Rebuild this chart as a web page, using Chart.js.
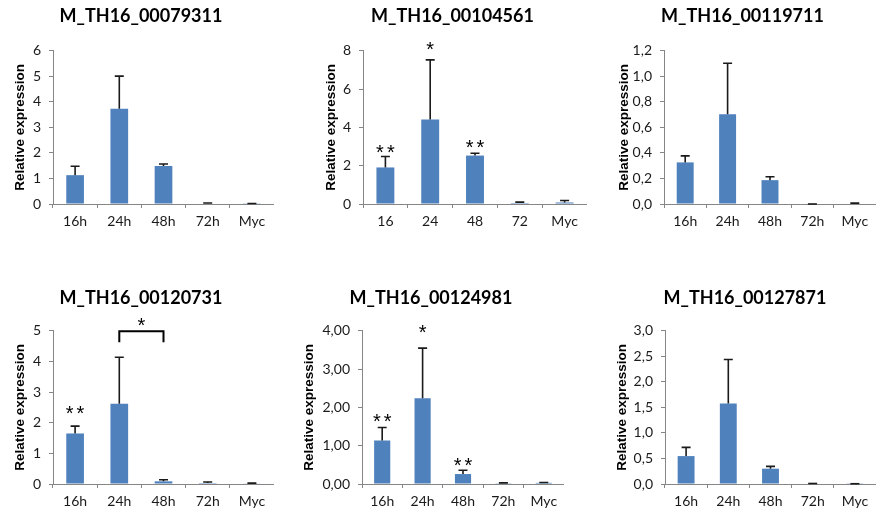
<!DOCTYPE html>
<html>
<head>
<meta charset="utf-8">
<script src="https://cdn.jsdelivr.net/npm/chart.js@4.4.1/dist/chart.umd.min.js"></script>
<style>
html, body { margin: 0; padding: 0; background: #fff; }
body { width: 876px; height: 514px; position: relative; overflow: hidden; }
canvas { position: absolute; }
</style>
</head>
<body>
<canvas id="c79311"></canvas>
<canvas id="c104561"></canvas>
<canvas id="c119711"></canvas>
<canvas id="c120731"></canvas>
<canvas id="c124981"></canvas>
<canvas id="c127871"></canvas>
<script>
// categories
const hours = ['16h', '24h', '48h', '72h', 'Myc'];
const hoursPlain = ['16', '24', '48', '72', 'Myc'];

// mean relative expression and upper error (sd) per gene
const mean_79311 = [1.13, 3.73, 1.49, 0.02, 0.01];
const sd_79311 = [0.35, 1.28, 0.08, 0.02, 0.01];

const mean_104561 = [1.91, 4.42, 2.53, 0.05, 0.08];
const sd_104561 = [0.57, 3.11, 0.12, 0.05, 0.10];
const sig_104561 = ['**', '*', '**', '', ''];
const sigLevel_104561 = [2.86, 8.24, 3.14, 0, 0];

const mean_119711 = [0.326, 0.703, 0.187, 0, 0.004];
const sd_119711 = [0.051, 0.40, 0.026, 0, 0.003];

const mean_120731 = [1.65, 2.62, 0.087, 0.03, 0.02];
const sd_120731 = [0.24, 1.52, 0.05, 0.035, 0.01];
const sig_120731 = ['**', '', '', '', ''];
const sigLevel_120731 = [2.42, 0, 0, 0, 0];
const bracket_120731 = { from: 1, to: 2, top: 4.99, foot: 4.63, label: '*', labelLevel: 5.30 };

const mean_124981 = [1.137, 2.24, 0.26, 0.02, 0.03];
const sd_124981 = [0.34, 1.31, 0.10, 0.01, 0.01];
const sig_124981 = ['**', '*', '**', '', ''];
const sigLevel_124981 = [1.72, 4.05, 0.58, 0, 0];

const mean_127871 = [0.547, 1.575, 0.30, 0.01, 0.005];
const sd_127871 = [0.17, 0.865, 0.045, 0, 0];

// y axis ranges
const yMax = [6, 8, 1.2, 5, 4, 3];
const yStep = [1, 2, 0.2, 1, 1, 0.5];
const yDecimals = [0, 0, 1, 0, 2, 1];

const panels = [
  { id: 'c79311', title: 'M_TH16_00079311', labels: hours, mean: mean_79311, sd: sd_79311,
    box: { left: 8, top: 0, width: 266, height: 240, yw: 45, xh: 36, pt: 5.2, pb: 24.1, lp: 4.4 } },
  { id: 'c104561', title: 'M_TH16_00104561', labels: hoursPlain, mean: mean_104561, sd: sd_104561,
    sig: sig_104561, sigLevel: sigLevel_104561,
    box: { left: 318, top: 0, width: 269, height: 240, yw: 45, xh: 36, pt: 5.2, pb: 24.1, lp: 5.6 } },
  { id: 'c119711', title: 'M_TH16_00119711', labels: hours, mean: mean_119711, sd: sd_119711,
    box: { left: 609, top: 0, width: 267, height: 240, yw: 55, xh: 36, pt: 5.2, pb: 24.1, lp: 7.1 } },
  { id: 'c120731', title: 'M_TH16_00120731', labels: hours, mean: mean_120731, sd: sd_120731,
    sig: sig_120731, sigLevel: sigLevel_120731, bracket: bracket_120731,
    box: { left: 8, top: 280, width: 266, height: 234, yw: 45, xh: 30, pt: 6.9, pb: 22.4, lp: 3.9 } },
  { id: 'c124981', title: 'M_TH16_00124981', labels: hours, mean: mean_124981, sd: sd_124981,
    sig: sig_124981, sigLevel: sigLevel_124981,
    box: { left: 298, top: 280, width: 266, height: 234, yw: 64, xh: 30, pt: 6.9, pb: 22.4, lp: 3.2 } },
  { id: 'c127871', title: 'M_TH16_00127871', labels: hours, mean: mean_127871, sd: sd_127871,
    box: { left: 614, top: 280, width: 262, height: 234, yw: 51, xh: 30, pt: 6.9, pb: 22.4, lp: 0 } },
];

const AXIS = '#868686';
const TEXT = '#1a1a1a';

// error bars drawn on top of the bars, using the y scale
const errorBars = {
  id: 'errorBars',
  afterDatasetsDraw(chart) {
    const ds = chart.data.datasets[0];
    const meta = chart.getDatasetMeta(0);
    const y = chart.scales.y;
    const ctx = chart.ctx;
    ctx.save();
    ctx.strokeStyle = '#1a1a1a';
    ctx.lineWidth = 1.6;
    meta.data.forEach((bar, i) => {
      const top = y.getPixelForValue(ds.data[i] + ds.sd[i]);
      ctx.beginPath();
      ctx.moveTo(bar.x, bar.y);
      ctx.lineTo(bar.x, top);
      ctx.moveTo(bar.x - 4.5, top);
      ctx.lineTo(bar.x + 4.5, top);
      ctx.stroke();
    });
    ctx.restore();
  }
};

// significance stars and bracket
const sigMarks = {
  id: 'sigMarks',
  afterDatasetsDraw(chart, args, opts) {
    const x = chart.scales.x, y = chart.scales.y, ctx = chart.ctx;
    ctx.save();
    ctx.fillStyle = '#000';
    ctx.font = '20px "Liberation Sans"';
    ctx.textAlign = 'center';
    ctx.textBaseline = 'middle';
    const star = (text, cx, level) => {
      ctx.letterSpacing = text.length > 1 ? '3px' : '0px';
      const shift = text.length > 1 ? 1.5 : 0;
      ctx.fillText(text, cx + shift, y.getPixelForValue(level) + 4.5);
    };
    (opts.sig || []).forEach((t, i) => {
      if (t) star(t, x.getPixelForValue(i), opts.sigLevel[i]);
    });
    const b = opts.bracket;
    if (b) {
      const x1 = x.getPixelForValue(b.from), x2 = x.getPixelForValue(b.to);
      const yt = y.getPixelForValue(b.top), yf = y.getPixelForValue(b.foot);
      ctx.strokeStyle = '#000';
      ctx.lineWidth = 2;
      ctx.beginPath();
      ctx.moveTo(x1, yf);
      ctx.lineTo(x1, yt);
      ctx.lineTo(x2, yt);
      ctx.lineTo(x2, yf);
      ctx.stroke();
      star(b.label, (x1 + x2) / 2, b.labelLevel);
    }
    ctx.restore();
  }
};

function makePanel(p, k) {
  const c = document.getElementById(p.id);
  const b = p.box;
  c.width = b.width;
  c.height = b.height;
  c.style.left = b.left + 'px';
  c.style.top = b.top + 'px';
  return new Chart(c, {
    type: 'bar',
    data: {
      labels: p.labels,
      datasets: [{
        data: p.mean,
        sd: p.sd,
        backgroundColor: '#4f81bd',
        borderWidth: 0,
        barPercentage: 0.4,
        categoryPercentage: 1,
      }]
    },
    options: {
      responsive: false,
      animation: false,
      devicePixelRatio: 1,
      layout: { padding: 0 },
      plugins: {
        legend: { display: false },
        tooltip: { enabled: false },
        title: {
          display: true,
          text: p.title,
          color: '#000',
          font: { family: 'Lato', size: 18, weight: 'bold', lineHeight: 1.2 },
          padding: { top: b.pt, bottom: b.pb },
        },
        sigMarks: { sig: p.sig, sigLevel: p.sigLevel, bracket: p.bracket },
      },
      scales: {
        x: {
          offset: true,
          grid: { offset: true, drawOnChartArea: false, tickLength: 4, color: AXIS },
          border: { color: AXIS },
          ticks: { color: TEXT, font: { family: 'Lato', size: 14 }, padding: 5, maxRotation: 0, autoSkip: false },
          afterFit: s => { s.height = b.xh; },
        },
        y: {
          min: 0,
          max: yMax[k],
          grid: { drawOnChartArea: false, tickLength: 4, color: AXIS },
          border: { color: AXIS },
          ticks: {
            stepSize: yStep[k],
            color: TEXT,
            font: { family: 'Lato', size: 14 },
            padding: 8,
            callback: v => v.toFixed(yDecimals[k]).replace('.', ','),
          },
          title: {
            display: true,
            text: 'Relative expression',
            color: '#000',
            font: { family: 'Liberation Sans', size: 13.5, weight: 'bold' },
            padding: { top: b.lp, bottom: 0 },
          },
          afterFit: s => { s.width = b.yw; },
        }
      }
    },
    plugins: [errorBars, sigMarks]
  });
}

panels.forEach(makePanel);
</script>
</body>
</html>
